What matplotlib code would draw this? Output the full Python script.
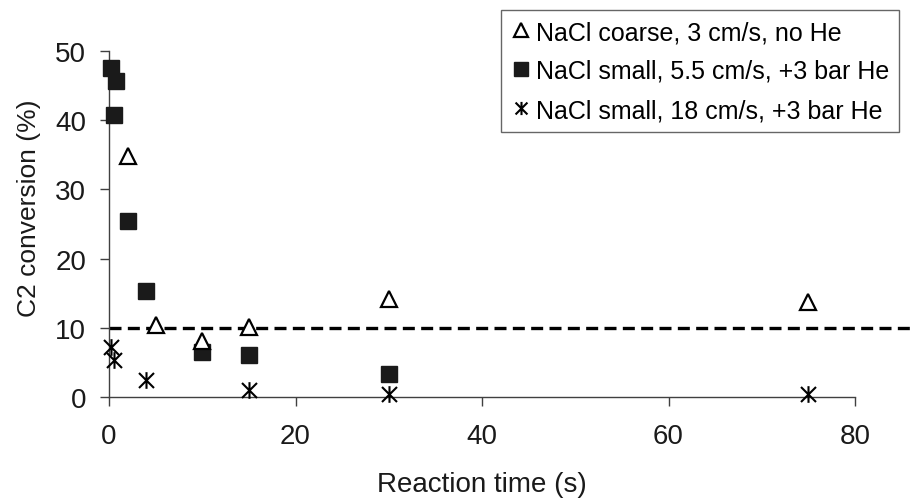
import matplotlib
matplotlib.use("Agg")
import matplotlib.pyplot as plt
from matplotlib.path import Path

plt.rcParams['font.family'] = ['Liberation Sans', 'DejaVu Sans']

# data
coarse_t = [2, 5, 10, 15, 30, 75]
coarse_c = [34.8, 10.4, 8.1, 10.1, 14.1, 13.7]

small_t = [0.25, 0.75, 0.5, 2, 4, 10, 15, 30]
small_c = [47.6, 45.7, 40.7, 25.5, 15.3, 6.5, 6.0, 3.3]

fast_t = [0.2, 0.5, 4, 15, 30, 75]
fast_c = [7.2, 5.3, 2.4, 1.0, 0.4, 0.4]

threshold = 10
labels = ["NaCl coarse, 3 cm/s, no He",
          "NaCl small, 5.5 cm/s, +3 bar He",
          "NaCl small, 18 cm/s, +3 bar He"]
xticks = [0, 20, 40, 60, 80]
yticks = [0, 10, 20, 30, 40, 50]

# asterisk like excel: an X with a vertical bar
d = 0.9
star = Path([(0, -1), (0, 1), (-d, -d), (d, d), (-d, d), (d, -d)],
            [Path.MOVETO, Path.LINETO, Path.MOVETO, Path.LINETO, Path.MOVETO, Path.LINETO])

fig = plt.figure(figsize=(9.13, 5.02), dpi=100)
ax = fig.add_axes([109/913, 1 - 398/502, (855-109)/913, (398-52)/502])

ax.plot(coarse_t, coarse_c, ls='none', marker='^', ms=11, mfc='white', mec='black', mew=1.6,
        label=labels[0], clip_on=False, zorder=4)
ax.plot(small_t, small_c, ls='none', marker='s', ms=11.5, mfc='#1a1a1a', mec='#1a1a1a',
        label=labels[1], clip_on=False, zorder=3)
ax.plot(fast_t, fast_c, ls='none', marker=star, ms=12, mfc='none', mec='black', mew=1.5,
        label=labels[2], clip_on=False, zorder=5)

ax.plot([0, 87], [threshold, threshold], color='black', lw=2.4, ls=(0, (3.6, 1.9)),
        clip_on=False, zorder=2)

ax.set_xlim(0, 80)
ax.set_ylim(0, 50)
ax.set_xticks(xticks)
ax.set_yticks(yticks)
for s in ['top', 'right']:
    ax.spines[s].set_visible(False)
for s in ['left', 'bottom']:
    ax.spines[s].set_color('#404040')
    ax.spines[s].set_linewidth(1.0)
ax.tick_params(direction='out', length=6.5, width=1.0, color='#404040',
               labelsize=20, labelcolor='#1a1a1a')
ax.tick_params(axis='x', pad=12)
ax.tick_params(axis='y', pad=10)

ax.set_xlabel("Reaction time (s)", fontsize=20, color='#1a1a1a')
ax.set_ylabel("C2 conversion (%)", fontsize=19, color='#1a1a1a')
ax.xaxis.set_label_coords(0.5, -0.215)
ax.yaxis.set_label_coords(-0.091, 0.549)

leg = ax.legend(loc='upper right', bbox_to_anchor=(899/913, 1 - 11/502),
                bbox_transform=fig.transFigure, fontsize=18, frameon=True, fancybox=False,
                handlelength=0.8, handletextpad=0.2, labelspacing=0.6,
                borderpad=0.4, borderaxespad=0)
leg.get_frame().set_edgecolor('#404040')
leg.get_frame().set_linewidth(1.0)
for h in leg.legend_handles:
    h.set_markersize(9.5)

fig.savefig('out.png', dpi=100)
